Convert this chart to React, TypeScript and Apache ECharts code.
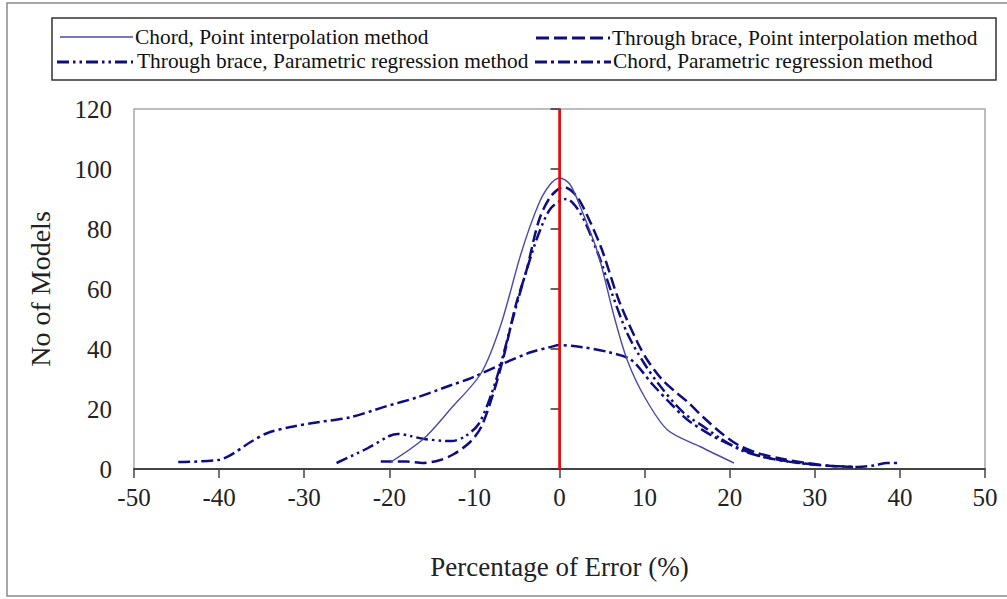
import React, { useEffect, useRef } from "react";
import * as echarts from "echarts";

// Error distribution curves: [percentage of error, number of models]
const chordPoint: [number, number][] = [
  [-20, 2], [-16, 10], [-12.8, 20], [-9.2, 32], [-6.9, 48], [-4.5, 72], [-2.5, 88],
  [-1.2, 94.5], [0, 97], [1.2, 95], [2.5, 87], [4.5, 72], [6.5, 50], [8, 36], [10, 24],
  [12.7, 13], [16.5, 7.5], [20.5, 2],
];

const bracePoint: [number, number][] = [
  [-21, 2.5], [-18, 2.5], [-16, 2], [-14, 3], [-12.4, 5], [-10.5, 9], [-9.2, 14],
  [-7.8, 25], [-6.6, 37], [-5.1, 55], [-3.9, 66], [-2.4, 83], [-1, 91], [0.5, 94],
  [2, 91], [3.5, 83], [5, 73], [7, 56], [9.2, 42], [10.4, 36], [12, 30], [13.5, 26],
  [15, 22.5], [17, 17], [19, 12], [21, 8], [23.3, 5.3], [26, 3.5], [29, 2], [32, 1],
  [34.5, 0.7],
];

const braceParam: [number, number][] = [
  [-26.2, 2], [-22.5, 7], [-20, 11], [-19, 11.7], [-17.5, 11], [-15.9, 10],
  [-12.7, 9.3], [-11.2, 10.7], [-9.5, 15], [-8, 25], [-6.9, 35], [-5.5, 50],
  [-4, 65], [-2.5, 78], [-1, 87], [0.8, 90], [2.5, 85], [4.5, 72], [6.1, 59],
  [8, 45], [10, 35], [11.9, 27.4], [14.6, 18.7], [17, 14], [19, 10], [21.3, 6.3],
  [24, 4], [27, 2.5], [30, 1.5],
];

const chordParam: [number, number][] = [
  [-44.8, 2.3], [-40.1, 3], [-38.6, 4.7], [-36.3, 9], [-34.3, 12], [-31.6, 14],
  [-28.4, 15.6], [-24.5, 17.3], [-20.6, 20.7], [-16.6, 24], [-12.7, 28],
  [-10.4, 30.3], [-6.5, 35.3], [-3.3, 39], [-1, 40.7], [0, 41.3], [2.5, 40.7],
  [5.7, 39], [8.4, 36.4], [11, 28], [13, 22], [15, 16.5], [18, 11], [21, 7],
  [24, 4], [28, 2], [32, 1], [35, 0.7], [37, 1.2], [38.5, 2], [40, 2],
];

const seriesNames = [
  "Chord, Point interpolation method",
  "Through brace, Point interpolation method",
  "Through brace, Parametric regression method",
  "Chord, Parametric regression method",
];

const xTicks = { min: -50, max: 50, interval: 10 };
const yTicks = { min: 0, max: 120, interval: 20 };

const SERIF = "'Liberation Serif', 'Times New Roman', serif";
const NAVY = "#0e0e82";
const SOLID = "#4a4aa6";

const dashLong = [12, 5];
const dashDotDot = [12, 4, 2.5, 4, 2.5, 4];
const dashDot = [12, 4, 3, 4];

export default function App() {
  const ref = useRef<HTMLDivElement>(null);

  useEffect(() => {
    document.body.style.margin = "0";
    const chart = echarts.init(ref.current!, undefined, { renderer: "svg" });

    const legendText = (text: string, x: number, y: number) => ({
      type: "text",
      x,
      y,
      style: {
        text,
        fontFamily: SERIF,
        fontSize: 21.4,
        fill: "#111",
        verticalAlign: "middle",
      },
    });
    const legendLine = (x1: number, x2: number, y: number, color: string, width: number, dash?: number[]) => ({
      type: "line",
      shape: { x1, y1: y, x2, y2: y },
      style: { stroke: color, lineWidth: width, lineDash: dash },
    });

    const lineSeries = (name: string, data: [number, number][], color: string, width: number, dash: any) => ({
      name,
      type: "line",
      data,
      showSymbol: false,
      symbol: "none",
      smooth: 0.3,
      lineStyle: { color, width, type: dash },
      z: 3,
    });

    chart.setOption({
      animation: false,
      backgroundColor: "#fff",
      grid: {
        left: 134,
        top: 109,
        right: 22,
        bottom: 130,
        show: true,
        borderColor: "#a8a8a8",
        borderWidth: 1.5,
      },
      xAxis: {
        type: "value",
        ...xTicks,
        name: "Percentage of Error (%)",
        nameLocation: "middle",
        nameGap: 84,
        nameTextStyle: { fontFamily: SERIF, fontSize: 27, color: "#222" },
        axisLine: { show: true, onZero: false, lineStyle: { color: "#444", width: 2 } },
        axisTick: { show: true, length: 9, lineStyle: { color: "#444", width: 1.5 } },
        axisLabel: { fontFamily: SERIF, fontSize: 25, color: "#222", margin: 16 },
        splitLine: { show: false },
      },
      yAxis: {
        type: "value",
        ...yTicks,
        name: "No of Models",
        nameLocation: "middle",
        nameGap: 80,
        nameTextStyle: { fontFamily: SERIF, fontSize: 28, color: "#222" },
        axisLine: { show: true, lineStyle: { color: "#222", width: 1.5 } },
        axisTick: { show: true, length: 9, lineStyle: { color: "#333", width: 1.5 } },
        axisLabel: { fontFamily: SERIF, fontSize: 25, color: "#222", margin: 22 },
        splitLine: { show: false },
      },
      series: [
        lineSeries(seriesNames[3], chordParam, NAVY, 2.5, dashDot),
        lineSeries(seriesNames[2], braceParam, NAVY, 2.5, dashDotDot),
        lineSeries(seriesNames[1], bracePoint, NAVY, 2.5, dashLong),
        {
          ...lineSeries(seriesNames[0], chordPoint, SOLID, 1.4, "solid"),
          markLine: {
            silent: true,
            symbol: ["none", "none"],
            label: { show: false },
            lineStyle: { color: "#ff0000", width: 2.5, type: "solid" },
            data: [{ xAxis: 0 }],
            z: 5,
          },
        },
      ],
      graphic: [
        // outer frame
        {
          type: "rect",
          shape: { x: 7, y: 3, width: 1010, height: 593 },
          style: { fill: "none", stroke: "#8a8a8a", lineWidth: 1.5 },
          silent: true,
        },
        // legend box
        {
          type: "rect",
          shape: { x: 52, y: 18, width: 944, height: 62 },
          style: { fill: "#fff", stroke: "#333", lineWidth: 1.5 },
          silent: true,
        },
        legendLine(60, 133, 37, SOLID, 1.4),
        legendText(seriesNames[0], 135, 37),
        legendLine(536, 610, 38, NAVY, 3, [13, 5]),
        legendText(seriesNames[1], 612, 38),
        legendLine(57, 133, 62, NAVY, 3, dashDotDot),
        legendText(seriesNames[2], 137, 61),
        legendLine(535, 611, 62, NAVY, 3, dashDot),
        legendText(seriesNames[3], 613, 61),
      ],
    });

    return () => chart.dispose();
  }, []);

  return <div ref={ref} style={{ width: 1007, height: 599 }} />;
}
